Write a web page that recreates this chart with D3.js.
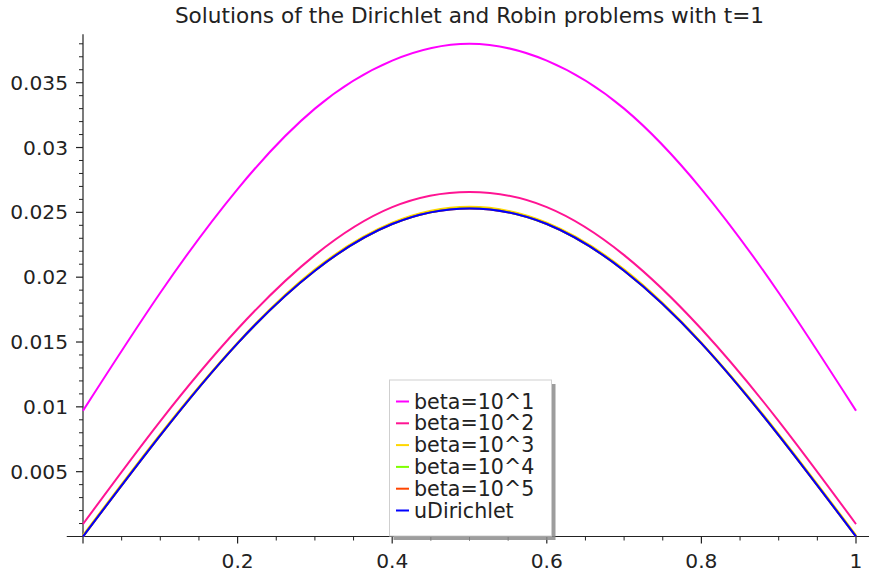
<!DOCTYPE html>
<html>
<head>
<meta charset="utf-8">
<script src="https://cdn.jsdelivr.net/npm/d3@7"></script>
<style>
  body { margin: 0; background: #fff; }
  svg { display: block; font-family: "DejaVu Sans", sans-serif; }
</style>
</head>
<body>
<svg id="chart" width="869" height="574"></svg>
<script>
// valores, x = 0, 0.1, ..., 1
const xs = [0, 0.1, 0.2, 0.3, 0.4, 0.5, 0.6, 0.7, 0.8, 0.9, 1];
const beta1 = [0.0097, 0.0188, 0.0268, 0.0330, 0.0367, 0.0380, 0.0367, 0.0330, 0.0268, 0.0188, 0.0097];
const beta2 = [0.00096, 0.0089, 0.0160, 0.0217, 0.0254, 0.02657, 0.0254, 0.0217, 0.0160, 0.0089, 0.00096];
const beta3 = [0.0001, 0.0079, 0.01495, 0.0206, 0.0242, 0.02543, 0.0242, 0.0206, 0.01495, 0.0079, 0.0001];
const beta4 = [0.00001, 0.0078, 0.0149, 0.0205, 0.0241, 0.02532, 0.0241, 0.0205, 0.0149, 0.0078, 0.00001];
const beta5 = [0, 0.0078, 0.0149, 0.0205, 0.0241, 0.0253, 0.0241, 0.0205, 0.0149, 0.0078, 0];
const uDirichlet = [0, 0.0078, 0.0149, 0.0205, 0.0241, 0.0253, 0.0241, 0.0205, 0.0149, 0.0078, 0];

const names = ['beta=10^1', 'beta=10^2', 'beta=10^3', 'beta=10^4', 'beta=10^5', 'uDirichlet'];
const colors = ['#ff00ff', '#ff1493', '#ffd700', '#7fff00', '#ff4500', '#0000ff'];
const series = [beta1, beta2, beta3, beta4, beta5, uDirichlet];

const xTicks = [0.2, 0.4, 0.6, 0.8, 1];
const xTickLabels = ['0.2', '0.4', '0.6', '0.8', '1'];
const yTicks = [0.005, 0.01, 0.015, 0.02, 0.025, 0.03, 0.035];
const yTickLabels = ['0.005', '0.01', '0.015', '0.02', '0.025', '0.03', '0.035'];

const title = 'Solutions of the Dirichlet and Robin problems with t=1';

const svg = d3.select('#chart');

const x = d3.scaleLinear().domain([0, 1]).range([83, 856]);
const y = d3.scaleLinear().domain([0, 0.038]).range([536.5, 43.8]);

// titulo
svg.append('text')
    .attr('x', x(0.5))
    .attr('y', 23)
    .attr('text-anchor', 'middle')
    .attr('font-size', 21.6)
    .attr('fill', '#222')
    .text(title);

const axisColor = '#222';

// eje x
svg.append('line')
    .attr('x1', x(-0.021)).attr('x2', x(1.02))
    .attr('y1', y(0)).attr('y2', y(0))
    .attr('stroke', axisColor).attr('stroke-width', 1.2);

// eje y
svg.append('line')
    .attr('x1', x(0)).attr('x2', x(0))
    .attr('y1', y(0)).attr('y2', y(0.03873))
    .attr('stroke', axisColor).attr('stroke-width', 1.2);

// marcas menores en x
const xMinor = d3.range(0, 21).map(i => i * 0.05).filter(v => Math.round(v * 100) % 20 !== 0);
svg.append('g').selectAll('line')
    .data(xMinor)
    .enter().append('line')
    .attr('x1', d => x(d)).attr('x2', d => x(d))
    .attr('y1', y(0)).attr('y2', y(0) + 4)
    .attr('stroke', axisColor).attr('stroke-width', 1);

svg.append('g').selectAll('line')
    .data([0].concat(xTicks))
    .enter().append('line')
    .attr('x1', d => x(d)).attr('x2', d => x(d))
    .attr('y1', y(0)).attr('y2', y(0) + 7)
    .attr('stroke', axisColor).attr('stroke-width', 1.2);

svg.append('g').selectAll('text')
    .data(xTicks)
    .enter().append('text')
    .attr('x', d => x(d))
    .attr('y', 568)
    .attr('text-anchor', 'middle')
    .attr('font-size', 20.2)
    .attr('fill', '#222')
    .text((d, i) => xTickLabels[i]);

// marcas menores en y
const yMinor = d3.range(1, 39).filter(i => i % 5 !== 0).map(i => i * 0.001);
svg.append('g').selectAll('line')
    .data(yMinor)
    .enter().append('line')
    .attr('x1', x(0) - 4).attr('x2', x(0))
    .attr('y1', d => y(d)).attr('y2', d => y(d))
    .attr('stroke', axisColor).attr('stroke-width', 1);

svg.append('g').selectAll('line')
    .data(yTicks)
    .enter().append('line')
    .attr('x1', x(0) - 7).attr('x2', x(0))
    .attr('y1', d => y(d)).attr('y2', d => y(d))
    .attr('stroke', axisColor).attr('stroke-width', 1.2);

svg.append('g').selectAll('text')
    .data(yTicks)
    .enter().append('text')
    .attr('x', 68)
    .attr('y', d => y(d) + 7)
    .attr('text-anchor', 'end')
    .attr('font-size', 20.2)
    .attr('fill', '#222')
    .text((d, i) => yTickLabels[i]);

// curvas
const line = d3.line()
    .x(d => x(d[0]))
    .y(d => y(d[1]))
    .curve(d3.curveNatural);

series.forEach((vals, i) => {
    svg.append('path')
        .datum(xs.map((v, j) => [v, vals[j]]))
        .attr('fill', 'none')
        .attr('stroke', colors[i])
        .attr('stroke-width', 2)
        .attr('d', line);
});

// leyenda
const legend = svg.append('g');
legend.append('rect')
    .attr('x', 393.5).attr('y', 384)
    .attr('width', 162).attr('height', 156)
    .attr('fill', '#8c8c8c').attr('opacity', 0.85);
legend.append('rect')
    .attr('x', 389.5).attr('y', 380)
    .attr('width', 162).attr('height', 156)
    .attr('fill', '#fff').attr('stroke', '#cfcfcf').attr('stroke-width', 1);

names.forEach((name, i) => {
    const cy = 401.5 + i * 21.8;
    legend.append('line')
        .attr('x1', 396).attr('x2', 409)
        .attr('y1', cy).attr('y2', cy)
        .attr('stroke', colors[i]).attr('stroke-width', 2);
    legend.append('text')
        .attr('x', 414)
        .attr('y', cy + 7)
        .attr('font-size', 20.6)
        .attr('fill', '#222')
        .text(name);
});
</script>
</body>
</html>
